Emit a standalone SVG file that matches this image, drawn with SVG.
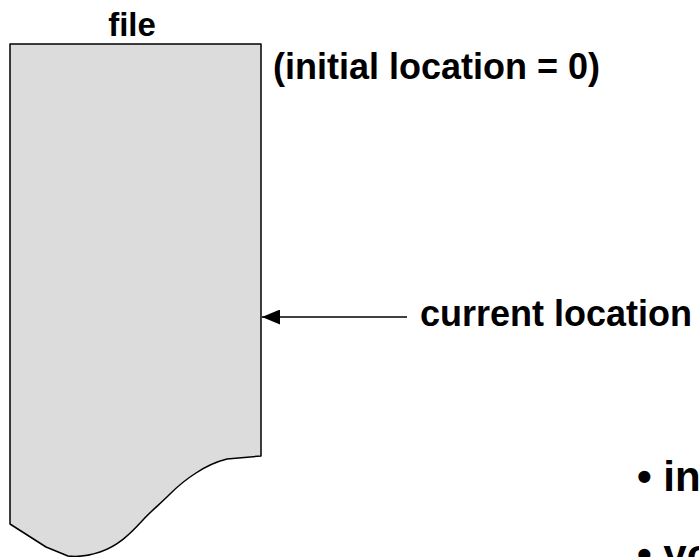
<svg xmlns="http://www.w3.org/2000/svg" width="699" height="557" viewBox="0 0 699 557">
  <style>
    .lbl { font-family: "Liberation Sans", Arial, sans-serif; font-weight: bold; fill: #000; }
    .file-shape { fill: #dcdcdc; stroke: #000; stroke-width: 1.5; stroke-linejoin: round; }
    .conn { stroke: #000; stroke-width: 1.5; fill: none; }
  </style>
  <defs>
    <marker id="arrow" viewBox="0 0 18 15" refX="18" refY="7.5" markerWidth="18" markerHeight="15" markerUnits="userSpaceOnUse" orient="auto">
      <path d="M0,0 L18,7.5 L0,15 Z" fill="#000"/>
    </marker>
  </defs>

  <!-- the file: a sheet with a torn lower edge -->
  <g id="file">
    <path class="file-shape" d="M10,44 L261,44 L261,456 L227,459 C215,462 205,467 196,473 C185,480 178,486 170,494 C160,504 150,512 142,521 C130,534 118,546 100,552 C88,556 76,557 68,556 L46,547 L10,524 Z"/>
    <text class="lbl" x="132" y="36" font-size="33" text-anchor="middle">file</text>
  </g>

  <g id="initial-note">
    <text class="lbl" x="273" y="79" font-size="36">(initial location = 0)</text>
  </g>

  <g id="current-note">
    <text class="lbl" x="420" y="326" font-size="36">current location</text>
  </g>

  <g id="bullets">
    <text class="lbl" x="637" y="491" font-size="42">• in</text>
    <text class="lbl" x="637" y="569" font-size="42">• yo</text>
  </g>

  <g id="connectors">
    <line class="conn" x1="407" y1="317" x2="262" y2="317" marker-end="url(#arrow)"/>
  </g>
</svg>
